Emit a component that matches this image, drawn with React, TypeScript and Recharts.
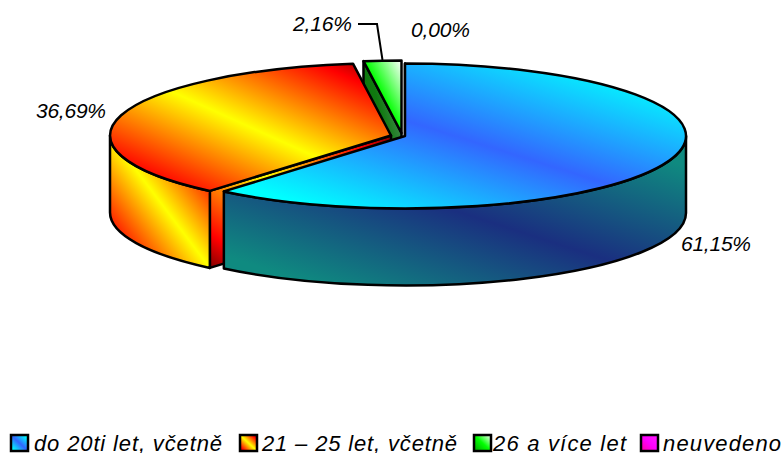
import React from "react";
import { PieChart, Pie, Legend } from "recharts";

const categories = ["do 20ti let, včetně", "21 – 25 let, včetně", "26 a více let", "neuvedeno"];
const shares = [61.15, 36.69, 2.16, 0.0];

// styling and layout, kept apart from the data
const gradients = ["blue", "orange", "green", "magenta"];
const WIDTH = 784;
const HEIGHT = 453;
const CX = 405;
const CY = 136;
const RX = 281;
const RY = 72.5;
const DEPTH = 77;
const explode: [number, number][] = [[0, 0], [-14, -0.5], [-3.5, -3], [0, 0]];
const labelPlacement: { dx: number; dy: number; w: number }[] = [
  { dx: 276, dy: 115, w: 70 },
  { dx: -369, dy: -18, w: 70 },
  { dx: -112, dy: -105, w: 59 },
  { dx: 6, dy: -99, w: 59 },
];
const legendPlacement = [
  { box: 11, text: 34, w: 188 },
  { box: 240, text: 262, w: 195 },
  { box: 474, text: 493, w: 133 },
  { box: 641, text: 663, w: 118 },
];

const pieData = categories
  .map((name, i) => ({ name, value: shares[i], order: i }))
  .reverse();

const rad = (a: number) => (a * Math.PI) / 180;
const pt = (cx: number, cy: number, a: number, dz = 0) => ({
  x: cx + RX * Math.cos(rad(a)),
  y: cy - RY * Math.sin(rad(a)) + dz,
});
const f = (n: number) => n.toFixed(2);

function Slice3D(props: any) {
  const { startAngle, endAngle, cx, cy, payload } = props;
  const order: number = payload?.order ?? props.order ?? 0;
  const g = gradients[order];
  if (Math.abs(endAngle - startAngle) < 0.01) return <g />;
  const [ox, oy] = explode[order];
  const x = cx + ox;
  const y = cy + oy;
  const s = pt(x, y, startAngle);
  const e = pt(x, y, endAngle);
  const large = Math.abs(endAngle - startAngle) > 180 ? 1 : 0;
  const top = `M${f(x)} ${f(y)} L${f(s.x)} ${f(s.y)} A${RX} ${RY} 0 ${large} 0 ${f(e.x)} ${f(e.y)} Z`;

  // outer wall: the part of the rim facing the viewer
  const a0 = Math.max(startAngle, 180);
  const a1 = Math.min(endAngle, 360);
  let wall: string | null = null;
  if (a1 > a0) {
    const p0 = pt(x, y, a0);
    const p1 = pt(x, y, a1);
    const q1 = pt(x, y, a1, DEPTH);
    const q0 = pt(x, y, a0, DEPTH);
    wall = `M${f(p0.x)} ${f(p0.y)} A${RX} ${RY} 0 0 0 ${f(p1.x)} ${f(p1.y)} L${f(q1.x)} ${f(q1.y)} A${RX} ${RY} 0 0 1 ${f(q0.x)} ${f(q0.y)} Z`;
  }
  // cut face at the clockwise-leading edge
  const face = `M${f(x)} ${f(y)} L${f(e.x)} ${f(e.y)} L${f(e.x)} ${f(e.y + DEPTH)} L${f(x)} ${f(y + DEPTH)} Z`;
  const line = { stroke: "#000", strokeWidth: 2.5, strokeLinejoin: "round" as const };
  return (
    <g>
      <path d={face} fill={`url(#${g}Side)`} {...line} />
      {wall && <path d={wall} fill={`url(#${g}Side)`} {...line} />}
      <path d={top} fill={`url(#${g}Top)`} {...line} />
    </g>
  );
}

function SliceLabel(props: any) {
  const { cx, cy, payload, value } = props;
  const order: number = payload?.order ?? props.order ?? 0;
  const p = labelPlacement[order];
  const tx = cx + p.dx;
  const ty = cy + p.dy;
  return (
    <g>
      {order === 2 && (
        <path
          d={`M${cx - 47} ${cy - 112} H${cx - 28} L${cx - 22.5} ${cy - 76}`}
          fill="none"
          stroke="#000"
          strokeWidth={2}
        />
      )}
      <text
        x={tx}
        y={ty}
        fontFamily="Liberation Sans"
        fontStyle="italic"
        fontSize={21}
        fill="#000"
        textLength={p.w}
        lengthAdjust="spacing"
      >
        {Number(value).toFixed(2).replace(".", ",")}%
      </text>
    </g>
  );
}

function LegendRow() {
  return (
    <svg width={WIDTH} height={HEIGHT} style={{ position: "absolute", left: 0, top: 0, display: "block" }}>
      {categories.map((name, i) => {
        const p = legendPlacement[i];
        return (
          <g key={name}>
            <rect x={p.box} y={435} width={17} height={16} fill={`url(#${gradients[i]}Top)`} stroke="#000" strokeWidth={2.5} />
            <text
              x={p.text}
              y={451}
              fontFamily="Liberation Sans"
              fontStyle="italic"
              fontSize={22}
              fill="#000"
              textLength={p.w}
              lengthAdjust="spacing"
            >
              {name}
            </text>
          </g>
        );
      })}
    </svg>
  );
}

const Grad = ({ id, stops }: { id: string; stops: [number, string][] }) => (
  <linearGradient id={id} x1="0" y1="1" x2="1" y2="0">
    {stops.map(([o, c]) => (
      <stop key={o} offset={o} stopColor={c} />
    ))}
  </linearGradient>
);

const fire: [number, string][] = [[0, "#800000"], [0.13, "#ff0000"], [0.5, "#ffff00"], [0.87, "#ff0000"], [1, "#800000"]];

export default function App() {
  return (
    <div style={{ position: "absolute", left: 0, top: 0, width: WIDTH, height: HEIGHT, overflow: "hidden", background: "#fff" }}>
      <PieChart width={WIDTH} height={HEIGHT} margin={{ top: 0, right: 0, bottom: 0, left: 0 }}>
        <defs>
          <Grad id="blueTop" stops={[[0.1, "#00ffff"], [0.5, "#3366ff"], [0.9, "#00ffff"]]} />
          <Grad id="blueSide" stops={[[0.1, "#0f8a80"], [0.5, "#1a2f80"], [0.9, "#0f8a80"]]} />
          <Grad id="orangeTop" stops={fire} />
          <Grad id="orangeSide" stops={fire} />
          <Grad id="greenTop" stops={[[0, "#00a000"], [0.5, "#00ff00"], [1, "#ffffff"]]} />
          <Grad id="greenSide" stops={[[0, "#007000"], [0.55, "#107a10"], [0.8, "#3f8a4a"]]} />
          <Grad id="magentaTop" stops={[[0, "#ff00a0"], [0.5, "#ff00ff"], [1, "#ff20ff"]]} />
          <Grad id="magentaSide" stops={[[0, "#800080"], [1, "#800080"]]} />
        </defs>
        <Pie
          data={pieData}
          dataKey="value"
          nameKey="name"
          cx={CX}
          cy={CY}
          innerRadius={0}
          outerRadius={RX}
          startAngle={90}
          endAngle={450}
          paddingAngle={0}
          stroke="none"
          isAnimationActive={false}
          shape={Slice3D}
          label={SliceLabel}
          labelLine={false}
        />
        <Legend
          content={LegendRow}
          wrapperStyle={{ position: "absolute", left: 0, top: 0, width: WIDTH, height: HEIGHT, pointerEvents: "none" }}
        />
      </PieChart>
    </div>
  );
}
